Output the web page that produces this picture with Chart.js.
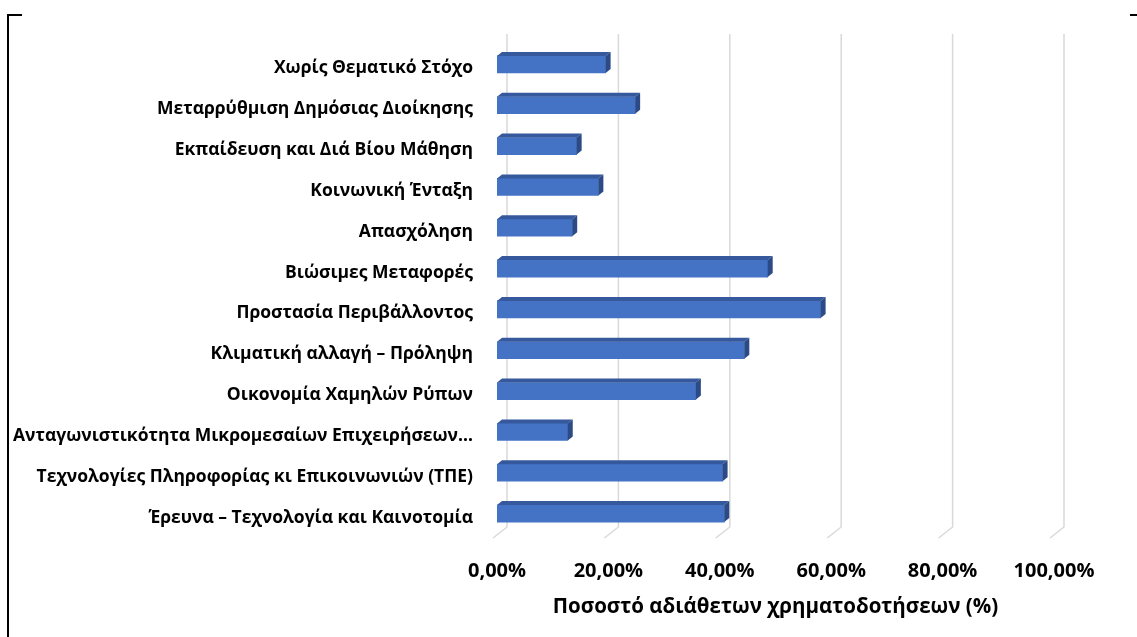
<!DOCTYPE html>
<html>
<head>
<meta charset="utf-8">
<script src="https://cdn.jsdelivr.net/npm/chart.js@4.4.1/dist/chart.umd.min.js"></script>
<style>
    html, body { margin: 0; padding: 0; background: #fff; }
    #wrap { width: 1137px; height: 637px; }
</style>
</head>
<body>
<div id="wrap"><canvas id="themeChart" width="1137" height="637"></canvas></div>
<script>
// categories, top to bottom as in the picture
const themeLabels = [
    'Χωρίς Θεματικό Στόχο',
    'Μεταρρύθμιση Δημόσιας Διοίκησης',
    'Εκπαίδευση και Διά Βίου Μάθηση',
    'Κοινωνική Ένταξη',
    'Απασχόληση',
    'Βιώσιμες Μεταφορές',
    'Προστασία Περιβάλλοντος',
    'Κλιματική αλλαγή – Πρόληψη',
    'Οικονομία Χαμηλών Ρύπων',
    'Ανταγωνιστικότητα Μικρομεσαίων Επιχειρήσεων…',
    'Τεχνολογίες Πληροφορίας κι Επικοινωνιών (ΤΠΕ)',
    'Έρευνα – Τεχνολογία και Καινοτομία'
];

// share of unused funding, percent
const unusedShare = [19.5, 24.8, 14.3, 18.2, 13.5, 48.6, 58.1, 44.4, 35.7, 12.7, 40.5, 40.8];

const axisTicks = [0, 20, 40, 60, 80, 100];
const axisTitle = 'Ποσοστό αδιάθετων χρηματοδοτήσεων (%)';

const FONT = "'Open Sans', 'DejaVu Sans', sans-serif";

function fmtPct(v) {
    return v.toFixed(2).replace('.', ',') + '%';
}

// back wall grid with a slanted floor piece, like the 3D Excel chart
const wallGrid = {
    id: 'wallGrid',
    beforeDatasetsDraw(chart) {
        const ctx = chart.ctx;
        const xs = chart.scales.x;
        const area = chart.chartArea;
        ctx.save();
        ctx.strokeStyle = '#d9d9d9';
        ctx.lineWidth = 1.5;
        axisTicks.forEach(function (v) {
            const px = xs.getPixelForValue(v);
            ctx.beginPath();
            ctx.moveTo(px + 10, area.top - 10);
            ctx.lineTo(px + 10, area.bottom - 7);
            ctx.lineTo(px - 4, area.bottom + 4);
            ctx.stroke();
        });
        ctx.restore();
    }
};

// top and right faces of each bar
const barDepth = {
    id: 'barDepth',
    afterDatasetsDraw(chart) {
        const ctx = chart.ctx;
        const meta = chart.getDatasetMeta(0);
        const dx = 5, dy = 4;
        ctx.save();
        meta.data.forEach(function (bar) {
            const p = bar.getProps(['x', 'y', 'base', 'height'], true);
            const top = p.y - p.height / 2;
            const bottom = p.y + p.height / 2;
            ctx.fillStyle = '#35599c';
            ctx.beginPath();
            ctx.moveTo(p.base, top);
            ctx.lineTo(p.x, top);
            ctx.lineTo(p.x + dx, top - dy);
            ctx.lineTo(p.base + dx, top - dy);
            ctx.closePath();
            ctx.fill();
            ctx.fillStyle = '#2b4a86';
            ctx.beginPath();
            ctx.moveTo(p.x, top);
            ctx.lineTo(p.x + dx, top - dy);
            ctx.lineTo(p.x + dx, bottom - dy);
            ctx.lineTo(p.x, bottom);
            ctx.closePath();
            ctx.fill();
        });
        ctx.restore();
    }
};

// bits of the black frame around the picture
const frameBits = {
    id: 'frameBits',
    afterDraw(chart) {
        const ctx = chart.ctx;
        ctx.save();
        ctx.strokeStyle = '#000';
        ctx.lineWidth = 2;
        ctx.beginPath();
        ctx.moveTo(8, 637);
        ctx.lineTo(8, 15);
        ctx.lineTo(22, 15);
        ctx.moveTo(1130, 15);
        ctx.lineTo(1137, 15);
        ctx.stroke();
        ctx.restore();
    }
};

const ctx = document.getElementById('themeChart').getContext('2d');

const themeChart = new Chart(ctx, {
    type: 'bar',
    data: {
        labels: themeLabels,
        datasets: [{
            label: axisTitle,
            data: unusedShare,
            backgroundColor: '#4472c4',
            borderWidth: 0,
            barThickness: 17
        }]
    },
    options: {
        indexAxis: 'y',
        responsive: false,
        animation: false,
        devicePixelRatio: 1,
        layout: {
            padding: { left: 10, top: 44, right: 83, bottom: 0 }
        },
        plugins: {
            legend: { display: false },
            tooltip: { enabled: false }
        },
        scales: {
            x: {
                min: 0,
                max: 100,
                afterBuildTicks: function (scale) {
                    scale.ticks = axisTicks.map(v => ({ value: v }));
                },
                afterFit: function (scale) {
                    scale.height = 103;
                },
                grid: { display: false, drawTicks: false },
                border: { display: false },
                ticks: {
                    padding: 25,
                    color: '#000',
                    font: { family: FONT, size: 20, weight: 'bold' },
                    callback: v => fmtPct(v)
                },
                title: {
                    display: true,
                    text: axisTitle,
                    color: '#000',
                    font: { family: FONT, size: 20.5, weight: 'bold' },
                    padding: { top: 4, bottom: 18 }
                }
            },
            y: {
                afterFit: function (scale) {
                    scale.width = 487;
                },
                grid: { display: false, drawTicks: false },
                border: { display: false },
                ticks: {
                    autoSkip: false,
                    padding: 24,
                    labelOffset: 4,
                    color: '#000',
                    font: { family: FONT, size: 17.5, weight: 'bold' }
                }
            }
        }
    },
    plugins: [wallGrid, barDepth, frameBits]
});
</script>
</body>
</html>
